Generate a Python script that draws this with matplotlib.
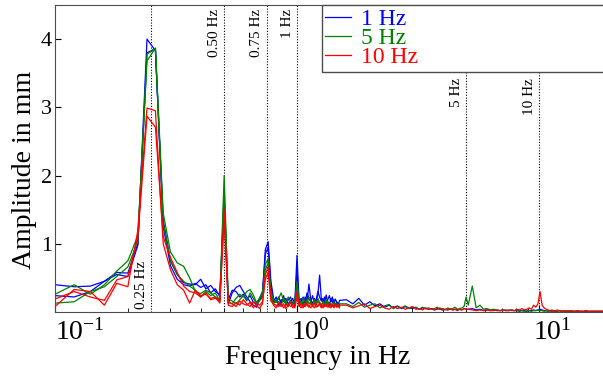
import numpy as np
import matplotlib
matplotlib.use("Agg")
import matplotlib.pyplot as plt
from matplotlib.transforms import ScaledTranslation

plt.rcParams['font.family'] = ['Liberation Serif', 'DejaVu Serif']
plt.rcParams['mathtext.fontset'] = 'stix'

# FFT bins in Hz: fine grid up to 1.5 Hz, coarser above
f_low = np.round(np.arange(0.10, 1.5001, 0.02), 2)
f_mid = np.round(np.arange(1.6, 5.001, 0.1), 2)
f_high = np.round(np.arange(5.1, 18.501, 0.2), 2)

# amplitude spectra in mm, two runs per excitation frequency
blue1_low = [0.40, 0.37, 0.38, 0.45, 0.58, 0.57, 1.00,
             4.00, 3.83,
             1.35, 0.75, 0.55, 0.43, 0.41, 0.40, 0.48, 0.34, 0.39, 0.30, 0.26,
             1.70,
             0.12, 0.28, 0.36, 0.39, 0.30, 0.22, 0.15, 0.10, 0.07, 0.18, 0.25, 0.92,
             1.03,
             0.45, 0.20, 0.14, 0.22, 0.12, 0.24, 0.10, 0.18, 0.22, 0.12, 0.16,
             0.83,
             0.15, 0.20, 0.10, 0.22, 0.14, 0.41, 0.18, 0.12, 0.20, 0.15, 0.26, 0.54,
             0.20, 0.14, 0.22, 0.12, 0.18, 0.24, 0.15, 0.22, 0.12, 0.19, 0.14, 0.10, 0.17]
blue2_low = [0.24, 0.22, 0.30, 0.45, 0.55, 0.52, 0.98,
             3.80, 3.86,
             1.25, 0.68, 0.48, 0.40, 0.38, 0.42, 0.36, 0.40, 0.28, 0.34, 0.22,
             1.55,
             0.18, 0.32, 0.30, 0.22, 0.26, 0.18, 0.24, 0.14, 0.12, 0.20, 0.30, 0.85,
             0.95,
             0.38, 0.14, 0.22, 0.10, 0.18, 0.15, 0.20, 0.12, 0.16, 0.20, 0.10,
             0.62,
             0.12, 0.16, 0.22, 0.12, 0.28, 0.20, 0.15, 0.24, 0.12, 0.18, 0.30, 0.22,
             0.16, 0.20, 0.12, 0.25, 0.14, 0.10, 0.20, 0.14, 0.18, 0.09, 0.15, 0.12, 0.10]
green1_low = [0.26, 0.40, 0.26, 0.40, 0.60, 0.75, 1.12,
              3.68, 3.87,
              1.45, 0.88, 0.72, 0.67, 0.50, 0.30, 0.27, 0.32, 0.28, 0.22, 0.18,
              2.00,
              0.15, 0.12, 0.20, 0.26, 0.22, 0.30, 0.33, 0.25, 0.14, 0.20, 0.28, 0.70,
              0.78,
              0.30, 0.18, 0.14, 0.20, 0.28, 0.16, 0.12, 0.22, 0.15, 0.10, 0.18,
              0.45,
              0.14, 0.10, 0.20, 0.16, 0.12, 0.22, 0.14, 0.10, 0.18, 0.12, 0.20, 0.14,
              0.09, 0.16, 0.12, 0.18, 0.10, 0.14, 0.12, 0.08, 0.15, 0.10, 0.13, 0.09, 0.12]
green2_low = [0.13, 0.15, 0.30, 0.37, 0.52, 0.66, 1.04,
              3.78, 3.86,
              1.30, 0.75, 0.55, 0.45, 0.38, 0.32, 0.22, 0.30, 0.24, 0.28, 0.16,
              1.80,
              0.20, 0.16, 0.12, 0.18, 0.24, 0.16, 0.28, 0.20, 0.12, 0.16, 0.22, 0.62,
              0.72,
              0.25, 0.12, 0.18, 0.14, 0.10, 0.20, 0.14, 0.08, 0.16, 0.12, 0.14,
              0.38,
              0.10, 0.16, 0.12, 0.08, 0.18, 0.12, 0.15, 0.08, 0.14, 0.10, 0.16, 0.12,
              0.10, 0.14, 0.08, 0.12, 0.16, 0.09, 0.12, 0.10, 0.08, 0.12, 0.09, 0.11, 0.08]
red1_low = [0.08, 0.33, 0.30, 0.10, 0.42, 0.37, 1.20,
            2.99, 2.95,
            1.00, 0.62, 0.40, 0.32, 0.13, 0.32, 0.24, 0.26, 0.20, 0.22, 0.13,
            1.50,
            0.10, 0.08, 0.14, 0.10, 0.18, 0.12, 0.08, 0.15, 0.10, 0.05, 0.12, 0.55,
            0.66,
            0.20, 0.10, 0.06, 0.14, 0.08, 0.12, 0.05, 0.10, 0.14, 0.06, 0.10,
            0.30,
            0.08, 0.12, 0.06, 0.14, 0.10, 0.07, 0.13, 0.09, 0.06, 0.12, 0.08, 0.14,
            0.10, 0.06, 0.11, 0.08, 0.13, 0.07, 0.10, 0.12, 0.06, 0.09, 0.11, 0.07, 0.10]
red2_low = [0.19, 0.30, 0.22, 0.17, 0.47, 0.52, 1.10,
            2.87, 2.71,
            1.10, 0.80, 0.58, 0.38, 0.30, 0.28, 0.22, 0.28, 0.18, 0.20, 0.16,
            1.35,
            0.14, 0.12, 0.08, 0.16, 0.12, 0.10, 0.14, 0.06, 0.12, 0.10, 0.15, 0.48,
            0.58,
            0.16, 0.12, 0.10, 0.08, 0.13, 0.06, 0.10, 0.12, 0.08, 0.11, 0.06,
            0.22,
            0.10, 0.06, 0.11, 0.08, 0.12, 0.09, 0.06, 0.10, 0.13, 0.07, 0.09, 0.11,
            0.06, 0.10, 0.08, 0.12, 0.07, 0.09, 0.06, 0.10, 0.08, 0.11, 0.07, 0.09, 0.06]

blue_mid = [0.18, 0.12, 0.20, 0.10, 0.15, 0.09, 0.12, 0.07, 0.10, 0.06,
            0.09, 0.05, 0.08, 0.06, 0.05, 0.07, 0.04, 0.06, 0.05, 0.04,
            0.05, 0.03, 0.05, 0.04, 0.03, 0.04, 0.03, 0.05, 0.03, 0.04,
            0.03, 0.04, 0.03, 0.05, 0.04]
green_mid = [0.12, 0.08, 0.14, 0.07, 0.10, 0.12, 0.06, 0.09, 0.11, 0.05,
             0.08, 0.06, 0.09, 0.05, 0.07, 0.06, 0.04, 0.07, 0.05, 0.06,
             0.04, 0.05, 0.07, 0.04, 0.05, 0.03, 0.06, 0.04, 0.05, 0.07,
             0.04, 0.05, 0.06, 0.08, 0.22]
red_mid = [0.10, 0.06, 0.09, 0.12, 0.05, 0.08, 0.10, 0.06, 0.04, 0.08,
           0.05, 0.07, 0.04, 0.06, 0.08, 0.04, 0.05, 0.03, 0.06, 0.04,
           0.05, 0.03, 0.04, 0.06, 0.03, 0.04, 0.03, 0.05, 0.03, 0.04,
           0.02, 0.04, 0.03, 0.05, 0.04]

blue_high = [0.04, 0.05, 0.03, 0.04, 0.02, 0.03, 0.02, 0.03, 0.02, 0.02,
             0.03, 0.02, 0.02, 0.03, 0.02, 0.02, 0.01, 0.02, 0.02, 0.01,
             0.02, 0.02, 0.03, 0.02, 0.03, 0.04, 0.03, 0.02, 0.02, 0.01,
             0.02, 0.01, 0.02, 0.01, 0.01, 0.02, 0.01, 0.01, 0.02, 0.01,
             0.01, 0.01, 0.02, 0.01, 0.01, 0.01, 0.01, 0.02, 0.01, 0.01,
             0.01, 0.01, 0.01, 0.02, 0.01, 0.01, 0.01, 0.01, 0.01, 0.01,
             0.01, 0.01, 0.01, 0.01, 0.01, 0.01, 0.01, 0.01]
green_high = [0.10, 0.38, 0.06, 0.10, 0.04, 0.05, 0.03, 0.04, 0.03, 0.02,
              0.03, 0.02, 0.03, 0.02, 0.02, 0.03, 0.02, 0.02, 0.01, 0.02,
              0.02, 0.01, 0.02, 0.02, 0.03, 0.02, 0.02, 0.01, 0.02, 0.01,
              0.01, 0.02, 0.01, 0.01, 0.01, 0.02, 0.01, 0.01, 0.01, 0.01,
              0.02, 0.01, 0.01, 0.01, 0.01, 0.01, 0.01, 0.01, 0.01, 0.01,
              0.01, 0.01, 0.01, 0.01, 0.01, 0.01, 0.01, 0.01, 0.01, 0.01,
              0.01, 0.01, 0.01, 0.01, 0.01, 0.01, 0.01, 0.01]
red_high = [0.04, 0.03, 0.02, 0.03, 0.02, 0.03, 0.02, 0.02, 0.03, 0.02,
            0.02, 0.03, 0.02, 0.03, 0.02, 0.04, 0.03, 0.05, 0.03, 0.04,
            0.06, 0.04, 0.10, 0.07, 0.12, 0.30, 0.10, 0.06, 0.04, 0.03,
            0.02, 0.03, 0.02, 0.02, 0.03, 0.02, 0.02, 0.01, 0.02, 0.02,
            0.01, 0.02, 0.01, 0.02, 0.01, 0.01, 0.02, 0.01, 0.01, 0.01,
            0.01, 0.01, 0.02, 0.01, 0.01, 0.01, 0.01, 0.01, 0.01, 0.01,
            0.01, 0.01, 0.01, 0.01, 0.01, 0.01, 0.01, 0.01]

marker_freqs = [0.25, 0.5, 0.75, 1, 5, 10]
marker_labels = ['0.25 Hz', '0.50 Hz', '0.75 Hz', '1 Hz', '5 Hz', '10 Hz']
legend_labels = ['1 Hz', '5 Hz', '10 Hz']

f_full = np.concatenate([f_low, f_mid, f_high])

fig = plt.figure(figsize=(6.03, 3.79), dpi=100)
ax = fig.add_axes([0.0912, 0.1768, 0.9235, 0.81])

lw = 0.9
hb, = ax.plot(f_full, blue1_low + blue_mid + blue_high, color='b', lw=lw)
ax.plot(f_low, blue2_low, color='b', lw=lw)
hg, = ax.plot(f_full, green1_low + green_mid + green_high, color='g', lw=lw)
ax.plot(f_low, green2_low, color='g', lw=lw)
hr, = ax.plot(f_full, red1_low + red_mid + red_high, color='r', lw=lw)
ax.plot(f_low, red2_low, color='r', lw=lw)

ax.set_xscale('log')
ax.set_xlim(0.1, 20)
ax.set_ylim(0, 4.5)
ax.set_yticks([1, 2, 3, 4])

# dotted markers at the excitation frequencies
for f, lab in zip(marker_freqs, marker_labels):
    ax.axvline(f, color='k', ls=(0, (1, 1.5)), lw=0.8, zorder=1)
    if f < 0.3:
        ax.annotate(lab, (f, 0.04), xytext=(-2.5, 0), textcoords='offset points',
                    rotation=90, ha='right', va='bottom', fontsize=11)
    elif f < 2:
        ax.annotate(lab, (f, 4.44), xytext=(-2.5, 0), textcoords='offset points',
                    rotation=90, ha='right', va='top', fontsize=11)
    else:
        ax.annotate(lab, (f, 3.43), xytext=(-2.5, 0), textcoords='offset points',
                    rotation=90, ha='right', va='top', fontsize=11)

for side in ['top', 'bottom', 'left']:
    ax.spines[side].set_color('0.3')
ax.spines['right'].set_visible(False)

ax.tick_params(axis='x', which='both', direction='in', labelsize=20, pad=5)
ax.tick_params(axis='x', which='major', length=5)
ax.tick_params(axis='x', which='minor', length=3)
ax.tick_params(axis='y', direction='in', labelsize=16, length=4, pad=2)

# nudge the decade labels to the right (inches)
fig.canvas.draw()
label_shift = {0.1: 0.25, 1.0: 0.13, 10.0: 0.13}
for tick in ax.xaxis.get_major_ticks():
    loc = float(tick.get_loc())
    for key, dx in label_shift.items():
        if np.isclose(loc, key):
            lbl = tick.label1
            lbl.set_transform(lbl.get_transform() + ScaledTranslation(dx, 0, fig.dpi_scale_trans))

ax.set_xlabel('Frequency in Hz', fontsize=20)
ax.set_ylabel('Amplitude in mm', fontsize=20)
ax.xaxis.set_label_coords((318 - 55) / 557, -0.108)
ax.yaxis.set_label_coords(-0.032, 0.4625)

leg = ax.legend([hb, hg, hr], legend_labels, loc='upper left',
                bbox_to_anchor=(0.4794, 0, 0.5206, 1.0), mode='expand',
                borderaxespad=0, fontsize=17, labelspacing=-0.1,
                handlelength=1.1, handletextpad=0.4, borderpad=0.15,
                fancybox=False, framealpha=1, edgecolor='0.3')
leg.get_frame().set_linewidth(1.0)
for txt, c in zip(leg.get_texts(), ['b', 'g', 'r']):
    txt.set_color(c)

fig.savefig('out.png', dpi=100)
